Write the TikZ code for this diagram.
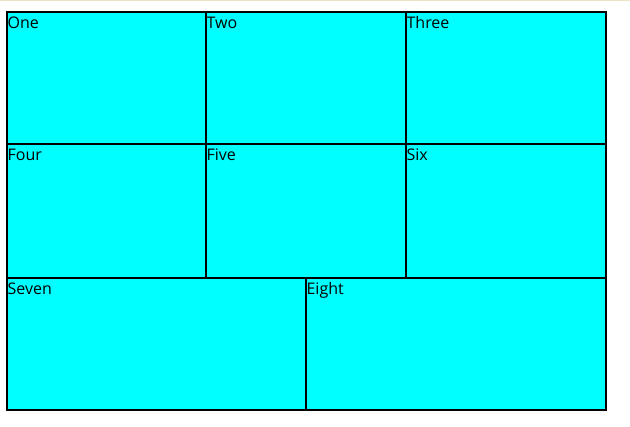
\documentclass[tikz,border=0pt]{standalone}
\usepackage{fontspec}
\setmainfont{Open Sans}
\usetikzlibrary{positioning}
\definecolor{cellcyan}{RGB}{0,255,255}
\definecolor{chromebar}{RGB}{236,226,198}
\tikzset{
  cell/.style 2 args={
    fill=cellcyan, outer sep=0pt, inner sep=0pt,
    minimum width=#1, minimum height=#2
  },
  frame/.style={draw=black, line width=2pt},
  caption/.style={
    anchor=north west, inner xsep=0.4pt, inner ysep=4.6pt,
    font=\fontsize{16}{19}\selectfont
  },
}

\begin{document}
\begin{tikzpicture}[x=1pt, y=-1pt]
\useasboundingbox (0,0) rectangle (630,427);

% ── browser edge ──────────────────────────────────────────────────────────────
\draw[chromebar, line width=1.5pt] (0,0.75) -- (630,0.75);

% ── first row ─────────────────────────────────────────────────────────────────
\node[cell={199pt}{132pt}, anchor=north west, label={[caption]north west:One}] (one) at (7,12) {};
\node[cell={200pt}{132pt}, right=0pt of one, label={[caption]north west:Two}] (two) {};
\node[cell={200pt}{132pt}, right=0pt of two, label={[caption]north west:Three}] (three) {};

% ── second row ────────────────────────────────────────────────────────────────
\node[cell={199pt}{134pt}, below=0pt of one, label={[caption]north west:Four}] (four) {};
\node[cell={200pt}{134pt}, right=0pt of four, label={[caption]north west:Five}] (five) {};
\node[cell={200pt}{134pt}, right=0pt of five, label={[caption]north west:Six}] (six) {};

% ── third row ─────────────────────────────────────────────────────────────────
\node[cell={299pt}{132pt}, below=0pt of four.south west, anchor=north west,
      label={[caption]north west:Seven}] (seven) {};
\node[cell={300pt}{132pt}, right=0pt of seven, label={[caption]north west:Eight}] (eight) {};

% ── borders on top of all fills ───────────────────────────────────────────────
\foreach \c in {one,two,three,four,five,six,seven,eight}
  \draw[frame] (\c.north west) rectangle (\c.south east);

\end{tikzpicture}
\end{document}
